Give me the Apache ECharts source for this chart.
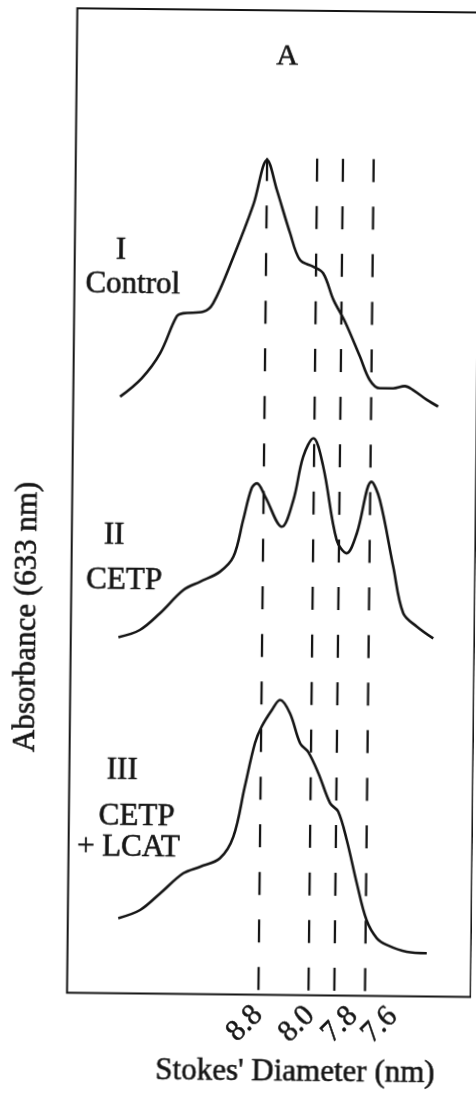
<!DOCTYPE html>
<html>
<head>
<meta charset="utf-8">
<script src="https://cdn.jsdelivr.net/npm/echarts@6/dist/echarts.min.js"></script>
<style>
  html, body { margin: 0; padding: 0; background: #fff; overflow: hidden; }
  #chart { width: 476px; height: 1095px; transform: rotate(0.6deg); transform-origin: 50% 50%; }
</style>
</head>
<body>
<div id="chart"></div>
<script>
// Migration distance along the gel lane: 0 = left edge of the frame, 100 = right edge.
// Stokes' diameter markers (nm) and where they sit along the lane.
const diameterLabels = ['8.8', '8.0', '7.8', '7.6'];
const diameterPos = [47.4, 59.8, 66.2, 73.8];

// Densitometric scans, absorbance at 633 nm (relative units)
const controlX = [11.6, 16.9, 21.4, 25.4, 27.0, 32.0, 34.4, 39.3, 44.1, 47.4, 49.9, 53.3, 55.8, 59.1, 61.6, 64.2, 67.1, 70.9, 73.4, 75.9, 79.2, 82.1, 84.2, 87.6, 90.4];
const controlY = [10.7, 16.9, 25.3, 37.6, 38.7, 39.3, 42.1, 57.7, 75.1, 90.1, 80.1, 65.7, 56.9, 54.7, 52.5, 43.7, 36.5, 24.9, 17.1, 14.4, 14.4, 15.2, 13.9, 10.7, 8.5];

const cetpX = [11.8, 17.1, 22.0, 27.8, 31.9, 36.8, 40.1, 42.4, 44.4, 45.7, 47.8, 52.0, 54.8, 57.1, 59.6, 62.1, 65.6, 68.1, 70.6, 74.1, 76.2, 79.7, 82.3, 85.7, 89.8];
const cetpY = [20.5, 23.0, 28.6, 36.5, 39.3, 42.7, 47.8, 60.0, 70.6, 72.3, 67.9, 57.9, 66.9, 81.3, 87.5, 78.1, 53.7, 49.3, 56.0, 73.2, 67.2, 45.0, 29.5, 25.1, 21.2];

const cetpLcatX = [12.5, 17.9, 22.8, 28.5, 32.6, 37.5, 40.8, 43.5, 45.9, 47.5, 50.0, 52.0, 54.5, 57.1, 59.1, 61.7, 64.7, 66.7, 68.9, 71.5, 74.0, 76.6, 79.1, 84.0, 89.0];
const cetpLcatY = [20.2, 23.0, 28.6, 35.4, 37.6, 40.5, 47.8, 64.5, 79.0, 84.5, 90.1, 93.5, 89.1, 79.1, 76.3, 69.2, 59.2, 56.5, 47.0, 32.6, 20.4, 14.4, 12.2, 10.0, 9.6];

// ---- layout ----
const FONT = '"Liberation Serif", "Times New Roman", serif';
const INK = '#151515';
const labelShift = [0, 0.5, 4.7, 7.0];       // spread the rotated tick labels apart
const labelPos = diameterPos.map((p, i) => p + labelShift[i]);

const zip = (xs, ys) => xs.map((x, i) => [x, ys[i]]);

const frame = { left: 71.7, right: 0.6, top: 10, bottom: 100.6 };
const panels = [
  { top: 130, height: 300 },
  { top: 400, height: 300 },
  { top: 680, height: 300 }
];

const grids = [Object.assign({ show: true, borderColor: INK, borderWidth: 2, backgroundColor: 'transparent' }, frame)]
  .concat(panels.map(p => ({ left: frame.left, right: frame.right, top: p.top, height: p.height, show: false })));

const bareAxis = (gridIndex) => ({
  type: 'value', gridIndex, min: 0, max: 100, position: 'bottom',
  axisLine: { show: false }, axisTick: { show: false }, splitLine: { show: false },
  axisLabel: { show: false }
});

// Diameter labels, split over two bottom axes so that neighbouring rotated labels all stay visible
const labelAxis = (indices) => Object.assign(bareAxis(0), {
  axisLabel: {
    show: true,
    customValues: indices.map(k => labelPos[k]),
    rotate: 45,
    margin: 16,
    fontFamily: FONT, fontSize: 30, color: INK,
    textBorderColor: INK, textBorderWidth: 0.5,
    formatter: v => {
      let best = 0;
      labelPos.forEach((p, k) => { if (Math.abs(p - v) < Math.abs(labelPos[best] - v)) best = k; });
      return diameterLabels[best];
    }
  }
});

const xAxes = grids.map((g, i) => bareAxis(i)).concat([labelAxis([0, 2]), labelAxis([1, 3])]);

const yAxes = grids.map((g, i) => ({
  type: 'value', gridIndex: i, min: 0, max: 100,
  axisLine: { show: false }, axisTick: { show: false }, splitLine: { show: false }, axisLabel: { show: false }
}));

const curve = (name, xs, ys, idx) => ({
  name, type: 'line', xAxisIndex: idx, yAxisIndex: idx,
  data: zip(xs, ys), smooth: 0.35, symbol: 'none',
  lineStyle: { color: INK, width: 2.6 }
});

const markers = diameterPos.map((p, i) => ({
  name: diameterLabels[i] + ' nm', type: 'line', xAxisIndex: 0, yAxisIndex: 0,
  data: [[p, 85], [p, 0]], symbol: 'none', silent: true,
  lineStyle: { color: INK, width: 2.3, type: [23, 24.6] }
}));

const txt = (text, x, y, size) => ({
  type: 'text', x, y,
  style: {
    text, fill: INK, stroke: INK, lineWidth: 0.6,
    font: size + 'px ' + FONT, textAlign: 'center', textVerticalAlign: 'middle'
  }
});

const chart = echarts.init(document.getElementById('chart'), null, { renderer: 'canvas' });
chart.setOption({
  animation: false,
  backgroundColor: '#fff',
  grid: grids,
  xAxis: xAxes,
  yAxis: yAxes,
  series: markers.concat([
    curve('I Control', controlX, controlY, 1),
    curve('II CETP', cetpX, cetpY, 2),
    curve('III CETP + LCAT', cetpLcatX, cetpLcatY, 3)
  ]),
  graphic: [
    txt('A', 282, 56, 30),
    txt('I', 118, 252, 31),
    txt('Control', 130, 286, 31),
    txt('II', 114, 537, 31),
    txt('CETP', 124.5, 582, 31),
    txt('III', 124.5, 772, 31),
    txt('CETP', 139.5, 818, 31),
    txt('+ LCAT', 131.5, 849, 31),
    txt("Stokes' Diameter (nm)", 300.5, 1071.5, 31),
    Object.assign(txt('Absorbance (633 nm)', 0, 0, 31), { x: 28, y: 619, rotation: Math.PI / 2 })
  ]
});
</script>
</body>
</html>
